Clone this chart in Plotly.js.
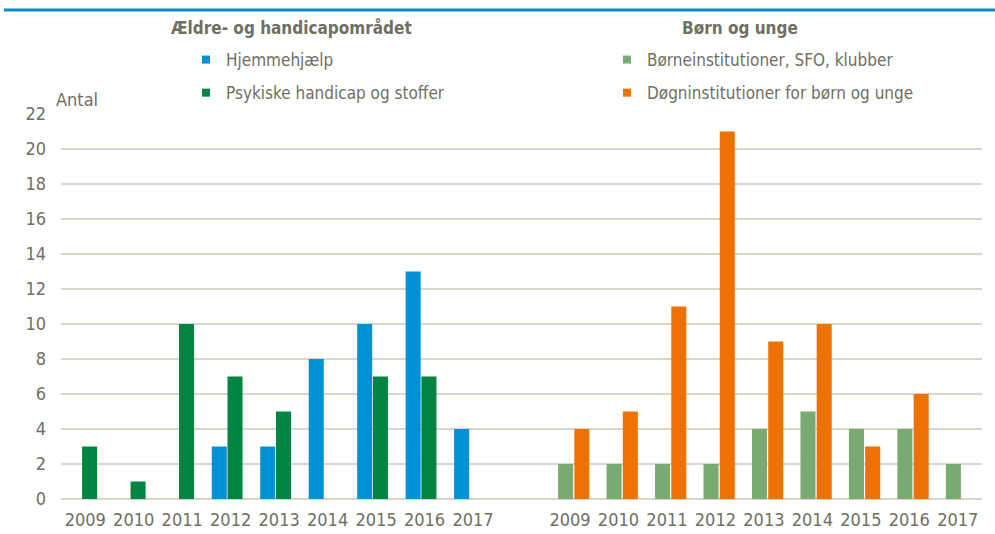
<!DOCTYPE html>
<html>
<head>
<meta charset="utf-8">
<script src="https://cdn.plot.ly/plotly-3.0.1.min.js"></script>
<style>html,body{margin:0;padding:0;background:#fff;}#chart{width:995px;height:534px;}</style>
</head>
<body>
<div id="chart"></div>
<script>
// ---- data ----
const years = ["2009","2010","2011","2012","2013","2014","2015","2016","2017"];
const hjemmehjaelp = [0, 0, 0, 3, 3, 8, 10, 13, 4];
const psykiske = [3, 1, 10, 7, 5, 0, 7, 7, 0];
const boerneinst = [2, 2, 2, 2, 4, 5, 4, 4, 2];
const doegninst = [4, 5, 11, 21, 9, 10, 3, 6, 0];
const groupTitles = ["Ældre- og handicapområdet", "Børn og unge"];
const seriesNames = ["Hjemmehjælp", "Psykiske handicap og stoffer", "Børneinstitutioner, SFO, klubber", "Døgninstitutioner for børn og unge"];
const yLabel = "Antal";

// ---- layout helpers ----
const W = 995, H = 534;
const M = {l: 61, r: 13, t: 114, b: 35, autoexpand: false};
const pw = W - M.l - M.r, ph = H - M.t - M.b;
const rightStart = years.length + 1;
const xLeft = years.map((_, i) => i);
const xRight = years.map((_, i) => i + rightStart);
const fontFam = '"DejaVu Sans Condensed", "Liberation Sans Narrow", "Arial Narrow", "Liberation Sans", sans-serif';
const txtCol = '#6f6f62';

const colors = ['#0090d5', '#008540', '#78ab72', '#ed7103'];
const barW = 0.31;
// offsets of each series' bars within a category (styling only)
const offsets = [-0.39, -0.065, -0.245, 0.09];

function bar(x, y, name, color, off) {
  return {type: 'bar', x: x, y: y, name: name, showlegend: false, width: barW, offset: off,
    marker: {color: color, line: {width: 0}},
    hoverinfo: 'x+y+name'};
}
function legendEntry(name, color, legend) {
  return {type: 'scatter', mode: 'markers', x: [null], y: [null], name: name, legend: legend,
    legendgroup: name, marker: {symbol: 'square', size: 8, color: color}, hoverinfo: 'skip'};
}
const traces = [
  bar(xLeft, hjemmehjaelp, seriesNames[0], colors[0], offsets[0]),
  bar(xLeft, psykiske, seriesNames[1], colors[1], offsets[1]),
  bar(xRight, boerneinst, seriesNames[2], colors[2], offsets[2]),
  bar(xRight, doegninst, seriesNames[3], colors[3], offsets[3]),
  legendEntry(seriesNames[0], colors[0], 'legend'),
  legendEntry(seriesNames[1], colors[1], 'legend'),
  legendEntry(seriesNames[2], colors[2], 'legend2'),
  legendEntry(seriesNames[3], colors[3], 'legend2')
];

const px2x = p => (p - M.l) / pw;
const px2y = p => (H - M.b - p) / ph;

const legendCommon = {
  orientation: 'v', xref: 'container', yref: 'container', yanchor: 'top', xanchor: 'left',
  font: {family: fontFam, size: 17, color: txtCol}, bgcolor: 'rgba(0,0,0,0)',
  itemwidth: 30, tracegroupgap: 8, traceorder: 'grouped', itemclick: false, itemdoubleclick: false
};

const layout = {
  width: W, height: H,
  margin: M,
  paper_bgcolor: '#fff', plot_bgcolor: '#fff',
  barmode: 'overlay',
  font: {family: fontFam, size: 18, color: txtCol},
  xaxis: {
    range: [-0.5, years.length * 2 + 0.5],
    tickvals: xLeft.concat(xRight), ticktext: years.concat(years),
    showgrid: false, zeroline: false, showline: false, ticks: '', ticklabelstandoff: 8,
    tickangle: 0, automargin: false,
    tickfont: {family: fontFam, size: 18, color: txtCol}, fixedrange: true
  },
  yaxis: {
    range: [0, 22], dtick: 2, tick0: 0, showgrid: true, gridcolor: '#d6d6cc', gridwidth: 1.5,
    zeroline: true, zerolinecolor: '#d6d6cc', zerolinewidth: 1.5, showline: false, ticks: '',
    ticklabelstandoff: 14, automargin: false,
    tickfont: {family: fontFam, size: 18, color: txtCol}, fixedrange: true
  },
  legend: Object.assign({}, legendCommon, {x: 186 / W, y: 1 - 42 / H}),
  legend2: Object.assign({}, legendCommon, {x: 607 / W, y: 1 - 42 / H}),
  annotations: [
    {text: '<b>' + groupTitles[0] + '</b>', xref: 'paper', yref: 'paper', x: px2x(291), y: px2y(28),
     showarrow: false, xanchor: 'center', yanchor: 'middle', font: {family: fontFam, size: 17, color: txtCol}},
    {text: '<b>' + groupTitles[1] + '</b>', xref: 'paper', yref: 'paper', x: px2x(740), y: px2y(28),
     showarrow: false, xanchor: 'center', yanchor: 'middle', font: {family: fontFam, size: 17, color: txtCol}},
    {text: yLabel, xref: 'paper', yref: 'paper', x: px2x(54), y: px2y(99),
     showarrow: false, xanchor: 'left', yanchor: 'middle', font: {family: fontFam, size: 18, color: txtCol}}
  ],
  shapes: [
    {type: 'line', xref: 'paper', yref: 'paper', x0: px2x(4), x1: px2x(995), y0: px2y(10), y1: px2y(10),
     line: {color: '#0a8ad0', width: 3}}
  ]
};

Plotly.newPlot('chart', traces, layout, {displayModeBar: false, staticPlot: true});
</script>
</body>
</html>
